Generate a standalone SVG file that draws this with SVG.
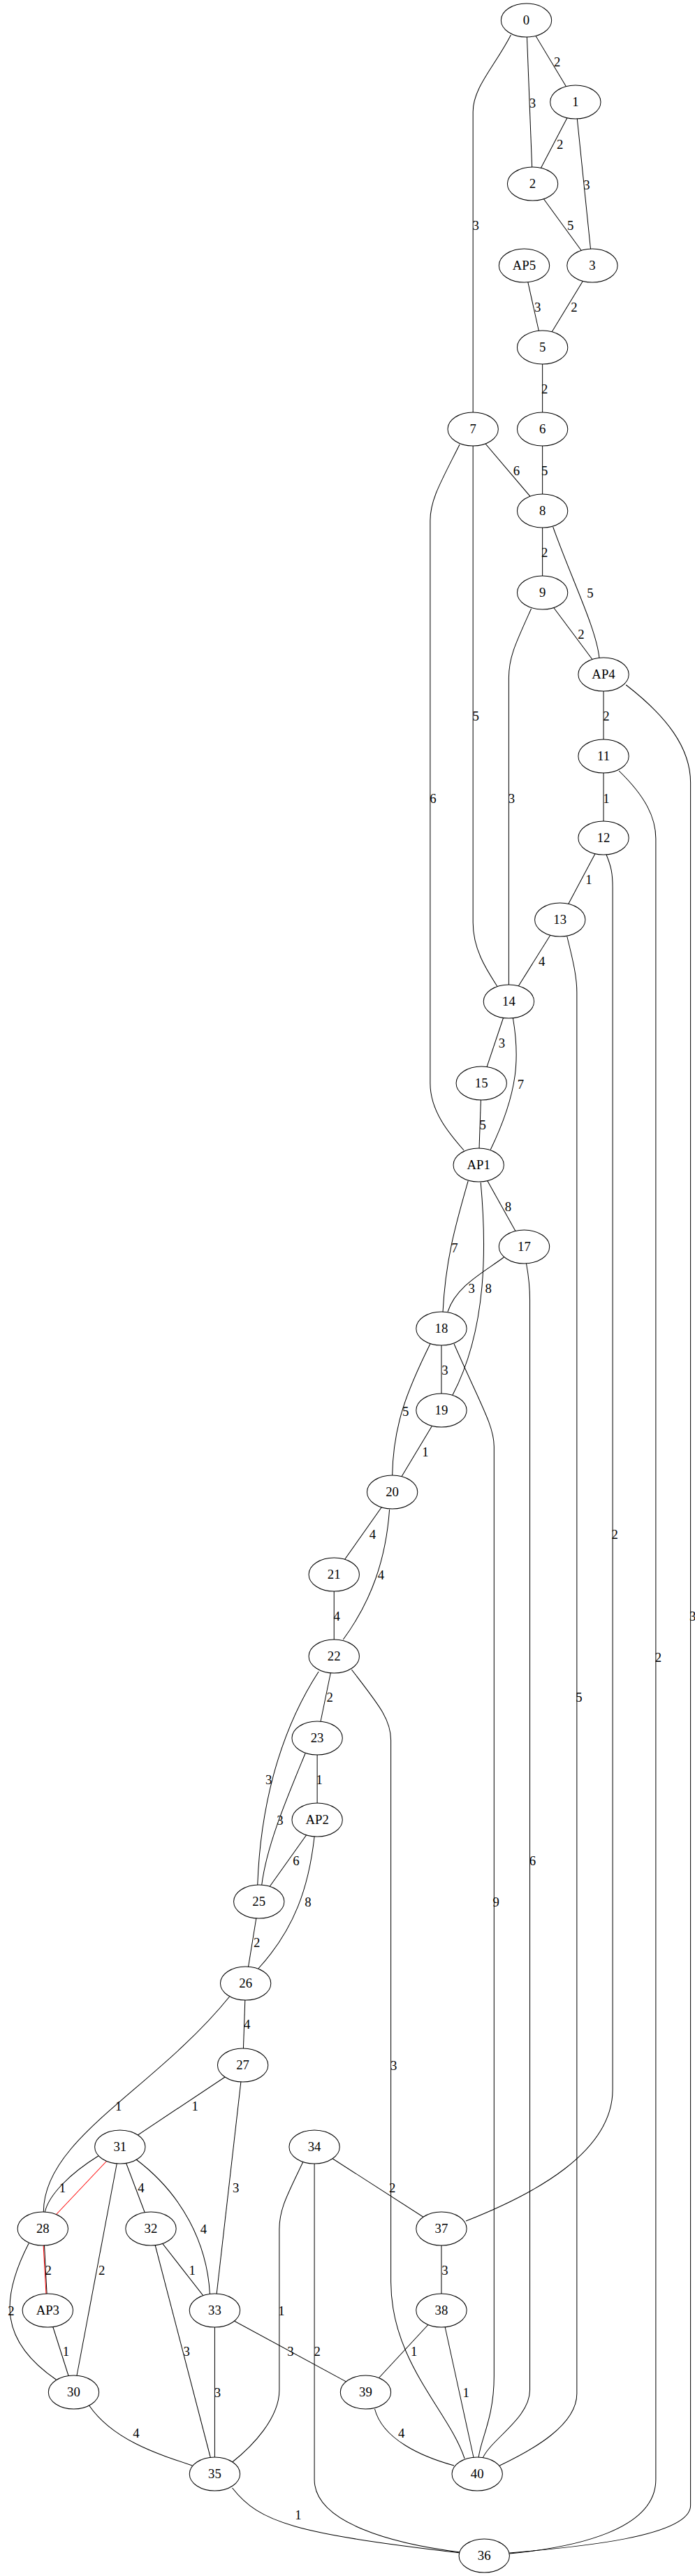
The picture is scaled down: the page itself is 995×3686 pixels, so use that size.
<svg xmlns="http://www.w3.org/2000/svg" width="995" height="3686" viewBox="0 0 995 3686">
<style>
.e path{fill:none;stroke:#000;stroke-width:1}
.e path.r{stroke:#ff0000}
.n ellipse{fill:#fff;stroke:#000;stroke-width:1}
text{font-family:"Liberation Serif","Times New Roman",serif;font-size:18.67px;text-anchor:middle;fill:#000}
</style>
<rect width="995" height="3686" fill="#fff"/>
<g id="graph" transform="scale(1.0047,1)">
<g id="connectors" class="e">
<path d="M750,29 L820,146"/>
<path d="M750,29 L759,263"/>
<path d="M820,146 L759,263"/>
<path d="M820,146 L844,380"/>
<path d="M759,263 L844,380"/>
<path d="M747,380 L773,497"/>
<path d="M844,380 L773,497"/>
<path d="M773,497 L773,614"/>
<path d="M773,614 L773,731"/>
<path d="M674,614 L773,731"/>
<path d="M773,731 L773,848"/>
<path d="M773,848 L860,965"/>
<path d="M860,965 L860,1082"/>
<path d="M860,1082 L860,1199"/>
<path d="M860,1199 L798,1316"/>
<path d="M798,1316 L725,1433"/>
<path d="M725,1433 L686,1550"/>
<path d="M686,1550 L682,1667"/>
<path d="M682,1667 L747,1784"/>
<path d="M629,1901 L629,2018"/>
<path d="M629,2018 L559,2135"/>
<path d="M559,2135 L476,2253"/>
<path d="M476,2253 L476,2370"/>
<path d="M476,2370 L452,2487"/>
<path d="M452,2487 L452,2604"/>
<path d="M452,2604 L369,2721"/>
<path d="M369,2721 L350,2838"/>
<path d="M350,2838 L346,2955"/>
<path d="M346,2955 L171,3072"/>
<path d="M346,2955 L306,3306"/>
<path d="M171,3072 L215,3189"/>
<path d="M171,3072 L105,3423"/>
<path d="M215,3189 L306,3306"/>
<path d="M215,3189 L306,3540"/>
<path d="M306,3306 L306,3540"/>
<path d="M306,3306 L521,3423"/>
<path d="M448,3072 L629,3189"/>
<path d="M629,3189 L629,3306"/>
<path d="M629,3306 L521,3423"/>
<path d="M629,3306 L680,3540"/>
<path d="M68,3306 L105,3423"/>
<path d="M62,3189 L68,3306"/>
<path d="M728,50 C705,95 674,125 674,160 L674,614"/>
<path d="M655,636 C628,690 613,715 613,745 L613,1550 C613,1590 640,1622 661,1646"/>
<path d="M674,614 L674,1320 C674,1360 695,1390 709,1412"/>
<path d="M757,871 C735,920 725,940 725,970 L725,1433"/>
<path d="M788,754 C815,830 850,900 854,942"/>
<path d="M892,980 C950,1025 984,1070 984,1120 L984,3585 C984,3630 820,3645 726,3653"/>
<path d="M882,1103 C920,1140 934.5,1170 934.5,1200 L934.5,3548 C934.5,3620 820,3645 726,3654"/>
<path d="M864,1223 C871,1240 873,1250 873,1270 L873,2990 C873,3080 760,3140 664,3178"/>
<path d="M808,1340 C818,1380 822,1400 822,1420 L822,3425 C822,3470 760,3505 712,3528"/>
<path d="M731,1457 C740,1510 740,1560 699,1645"/>
<path d="M667,1690 C650,1750 635,1800 631,1878"/>
<path d="M685,1692 C693,1780 695,1900 645,1996"/>
<path d="M718,1799 C690,1820 650,1840 638,1877"/>
<path d="M750,1808 C754,1830 755,1845 755,1860 L755,3420 C755,3460 700,3490 688,3517"/>
<path d="M647,1923 C685,2010 704,2040 704,2070 L704,3400 C704,3460 685,3490 682,3516"/>
<path d="M613,1923 C580,1990 560,2040 559,2112"/>
<path d="M555,2160 C550,2230 530,2290 489,2346"/>
<path d="M454,2392 C410,2460 372,2560 367,2697"/>
<path d="M435,2509 C410,2570 380,2640 373,2697"/>
<path d="M501,2389 C540,2440 557,2460 557,2490 L557,3265 C557,3380 640,3450 662,3518"/>
<path d="M448,2628 C440,2700 420,2760 368,2817"/>
<path d="M327,2857 C220,2990 62,3060 62,3165"/>
<path d="M140,3085 C100,3110 70,3140 64,3165"/>
<path d="M41,3210 C0,3290 0,3350 80,3405"/>
<path d="M194,3090 C260,3140 295,3210 299,3282"/>
<path d="M432,3093 C410,3140 398,3160 398,3190 L398,3420 C398,3460 360,3500 331,3523"/>
<path d="M448,3096 L448,3548 C448,3610 560,3640 656,3652"/>
<path d="M331,3560 C370,3610 420,3625 656,3653"/>
<path d="M534,3447 C545,3490 600,3515 647,3528"/>
<path d="M127,3442 C160,3490 220,3510 274,3528"/>
<path class="r" d="M171,3072 L61,3189"/>
<path class="r" d="M60.5,3189 L67,3306"/>
</g>
<g id="edge-labels">
<text x="794" y="95">2</text>
<text x="759" y="154">3</text>
<text x="798" y="213">2</text>
<text x="836" y="271">3</text>
<text x="678" y="329">3</text>
<text x="813" y="329">5</text>
<text x="766" y="446">3</text>
<text x="818" y="446">2</text>
<text x="776" y="563">2</text>
<text x="736" y="680">6</text>
<text x="776" y="680">5</text>
<text x="776" y="797">2</text>
<text x="841" y="855">5</text>
<text x="828" y="914">2</text>
<text x="678" y="1031">5</text>
<text x="864" y="1031">2</text>
<text x="617" y="1149">6</text>
<text x="729" y="1149">3</text>
<text x="864" y="1149">1</text>
<text x="839" y="1265">1</text>
<text x="772" y="1382">4</text>
<text x="715" y="1499">3</text>
<text x="742" y="1558">7</text>
<text x="688" y="1616">5</text>
<text x="724" y="1733">8</text>
<text x="648" y="1792">7</text>
<text x="672" y="1850">3</text>
<text x="696" y="1850">8</text>
<text x="634" y="1967">3</text>
<text x="578" y="2026">5</text>
<text x="606" y="2084">1</text>
<text x="531" y="2202">4</text>
<text x="876" y="2202">2</text>
<text x="543" y="2260">4</text>
<text x="480" y="2319">4</text>
<text x="987" y="2319">3</text>
<text x="938" y="2378">2</text>
<text x="470" y="2435">2</text>
<text x="825" y="2435">5</text>
<text x="383" y="2553">3</text>
<text x="455" y="2553">1</text>
<text x="399" y="2611">3</text>
<text x="422" y="2669">6</text>
<text x="759" y="2669">6</text>
<text x="439" y="2728">8</text>
<text x="707" y="2728">9</text>
<text x="366" y="2786">2</text>
<text x="352" y="2903">4</text>
<text x="561" y="2962">3</text>
<text x="169" y="3020">1</text>
<text x="278" y="3020">1</text>
<text x="89" y="3137">1</text>
<text x="201" y="3137">4</text>
<text x="336" y="3137">3</text>
<text x="559" y="3137">2</text>
<text x="290" y="3196">4</text>
<text x="69" y="3255">2</text>
<text x="145" y="3255">2</text>
<text x="274" y="3255">1</text>
<text x="634" y="3255">3</text>
<text x="16" y="3313">2</text>
<text x="401" y="3313">1</text>
<text x="94" y="3371">1</text>
<text x="266" y="3371">3</text>
<text x="414" y="3371">3</text>
<text x="452" y="3371">2</text>
<text x="590" y="3371">1</text>
<text x="310" y="3430">3</text>
<text x="664" y="3430">1</text>
<text x="194" y="3488">4</text>
<text x="572" y="3488">4</text>
<text x="425" y="3605">1</text>
</g>
<g id="n0" class="n"><ellipse cx="750" cy="29" rx="36" ry="24"/><text x="750" y="35">0</text></g>
<g id="n1" class="n"><ellipse cx="820" cy="146" rx="36" ry="24"/><text x="820" y="152">1</text></g>
<g id="n2" class="n"><ellipse cx="759" cy="263" rx="36" ry="24"/><text x="759" y="269">2</text></g>
<g id="nAP5" class="n"><ellipse cx="747" cy="380" rx="36" ry="24"/><text x="747" y="386">AP5</text></g>
<g id="n3" class="n"><ellipse cx="844" cy="380" rx="36" ry="24"/><text x="844" y="386">3</text></g>
<g id="n5" class="n"><ellipse cx="773" cy="497" rx="36" ry="24"/><text x="773" y="503">5</text></g>
<g id="n7" class="n"><ellipse cx="674" cy="614" rx="36" ry="24"/><text x="674" y="620">7</text></g>
<g id="n6" class="n"><ellipse cx="773" cy="614" rx="36" ry="24"/><text x="773" y="620">6</text></g>
<g id="n8" class="n"><ellipse cx="773" cy="731" rx="36" ry="24"/><text x="773" y="737">8</text></g>
<g id="n9" class="n"><ellipse cx="773" cy="848" rx="36" ry="24"/><text x="773" y="854">9</text></g>
<g id="nAP4" class="n"><ellipse cx="860" cy="965" rx="36" ry="24"/><text x="860" y="971">AP4</text></g>
<g id="n11" class="n"><ellipse cx="860" cy="1082" rx="36" ry="24"/><text x="860" y="1088">11</text></g>
<g id="n12" class="n"><ellipse cx="860" cy="1199" rx="36" ry="24"/><text x="860" y="1205">12</text></g>
<g id="n13" class="n"><ellipse cx="798" cy="1316" rx="36" ry="24"/><text x="798" y="1322">13</text></g>
<g id="n14" class="n"><ellipse cx="725" cy="1433" rx="36" ry="24"/><text x="725" y="1439">14</text></g>
<g id="n15" class="n"><ellipse cx="686" cy="1550" rx="36" ry="24"/><text x="686" y="1556">15</text></g>
<g id="nAP1" class="n"><ellipse cx="682" cy="1667" rx="36" ry="24"/><text x="682" y="1673">AP1</text></g>
<g id="n17" class="n"><ellipse cx="747" cy="1784" rx="36" ry="24"/><text x="747" y="1790">17</text></g>
<g id="n18" class="n"><ellipse cx="629" cy="1901" rx="36" ry="24"/><text x="629" y="1907">18</text></g>
<g id="n19" class="n"><ellipse cx="629" cy="2018" rx="36" ry="24"/><text x="629" y="2024">19</text></g>
<g id="n20" class="n"><ellipse cx="559" cy="2135" rx="36" ry="24"/><text x="559" y="2141">20</text></g>
<g id="n21" class="n"><ellipse cx="476" cy="2253" rx="36" ry="24"/><text x="476" y="2259">21</text></g>
<g id="n22" class="n"><ellipse cx="476" cy="2370" rx="36" ry="24"/><text x="476" y="2376">22</text></g>
<g id="n23" class="n"><ellipse cx="452" cy="2487" rx="36" ry="24"/><text x="452" y="2493">23</text></g>
<g id="nAP2" class="n"><ellipse cx="452" cy="2604" rx="36" ry="24"/><text x="452" y="2610">AP2</text></g>
<g id="n25" class="n"><ellipse cx="369" cy="2721" rx="36" ry="24"/><text x="369" y="2727">25</text></g>
<g id="n26" class="n"><ellipse cx="350" cy="2838" rx="36" ry="24"/><text x="350" y="2844">26</text></g>
<g id="n27" class="n"><ellipse cx="346" cy="2955" rx="36" ry="24"/><text x="346" y="2961">27</text></g>
<g id="n31" class="n"><ellipse cx="171" cy="3072" rx="36" ry="24"/><text x="171" y="3078">31</text></g>
<g id="n34" class="n"><ellipse cx="448" cy="3072" rx="36" ry="24"/><text x="448" y="3078">34</text></g>
<g id="n28" class="n"><ellipse cx="61" cy="3189" rx="36" ry="24"/><text x="61" y="3195">28</text></g>
<g id="n32" class="n"><ellipse cx="215" cy="3189" rx="36" ry="24"/><text x="215" y="3195">32</text></g>
<g id="n37" class="n"><ellipse cx="629" cy="3189" rx="36" ry="24"/><text x="629" y="3195">37</text></g>
<g id="nAP3" class="n"><ellipse cx="68" cy="3306" rx="36" ry="24"/><text x="68" y="3312">AP3</text></g>
<g id="n33" class="n"><ellipse cx="306" cy="3306" rx="36" ry="24"/><text x="306" y="3312">33</text></g>
<g id="n38" class="n"><ellipse cx="629" cy="3306" rx="36" ry="24"/><text x="629" y="3312">38</text></g>
<g id="n30" class="n"><ellipse cx="105" cy="3423" rx="36" ry="24"/><text x="105" y="3429">30</text></g>
<g id="n39" class="n"><ellipse cx="521" cy="3423" rx="36" ry="24"/><text x="521" y="3429">39</text></g>
<g id="n35" class="n"><ellipse cx="306" cy="3540" rx="36" ry="24"/><text x="306" y="3546">35</text></g>
<g id="n40" class="n"><ellipse cx="680" cy="3540" rx="36" ry="24"/><text x="680" y="3546">40</text></g>
<g id="n36" class="n"><ellipse cx="690" cy="3657" rx="36" ry="24"/><text x="690" y="3663">36</text></g>
</g>
</svg>
